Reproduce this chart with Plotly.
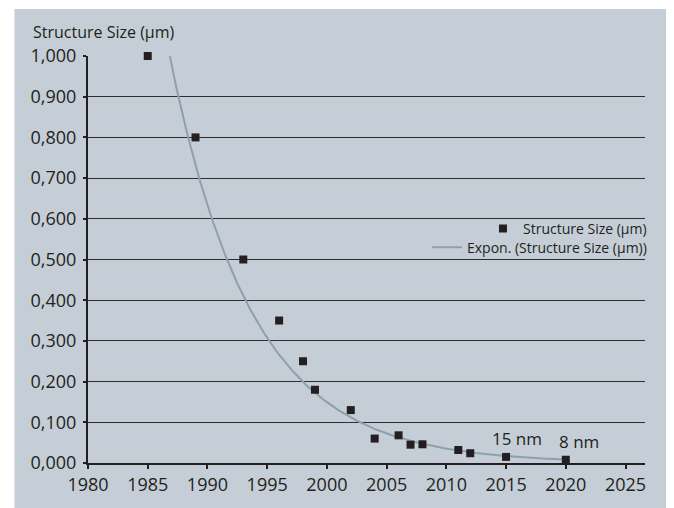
import numpy as np
import plotly.graph_objects as go

# ---- data ----
years = [1985, 1989, 1993, 1996, 1998, 1999, 2002, 2004, 2006, 2007, 2008, 2011, 2012, 2015, 2020]
sizes_um = [1.000, 0.800, 0.500, 0.350, 0.250, 0.180, 0.130, 0.060, 0.068, 0.045, 0.046, 0.032, 0.024, 0.015, 0.008]

# exponential trendline y = exp(b * (x - x0)), coefficients
trend_b = -0.1445
trend_x0 = 1986.84

x_ticks = [1980, 1985, 1990, 1995, 2000, 2005, 2010, 2015, 2020, 2025]
y_ticks = [0.0, 0.1, 0.2, 0.3, 0.4, 0.5, 0.6, 0.7, 0.8, 0.9, 1.0]

labels_text = ["15 nm", "8 nm"]
labels_year = [2015, 2020]
labels_size = [0.015, 0.008]

FONT = "Open Sans"
BG = "#c5ced6"
DARK = "#231f20"

OFF = 8  # page body margin
W, H = 674 - OFF, 508 - OFF
# reference pixel positions (window coords)
PL, PR, PT, PB = 87.5, 645, 56, 463.5
ML = PL - OFF
MR = 674 - PR
MT = PT - OFF
MB = 508 - PB
pw = W - ML - MR
ph = H - MT - MB

def px_x(p):
    return (p - PL) / pw

def px_y(p):
    return (PB - p) / ph

trend_x = np.linspace(min(years), max(years), 400)
trend_y = np.exp(trend_b * (trend_x - trend_x0))

fig = go.Figure()
fig.add_trace(go.Scatter(
    x=trend_x, y=trend_y, mode="lines",
    line=dict(color="#8ea1ab", width=2),
    name="Expon. (Structure Size (µm))",
    legend="legend2",
))
fig.add_trace(go.Scatter(
    x=years, y=sizes_um, mode="markers",
    marker=dict(symbol="square", size=8, color=DARK),
    name="Structure Size (µm)",
    cliponaxis=False,
    legend="legend",
))

for t, xv, yv in zip(labels_text, labels_year, labels_size):
    fig.add_annotation(x=xv, y=yv, text=t, showarrow=False,
                       xshift=11 if t == "15 nm" else 13, yshift=18,
                       font=dict(family=FONT, size=17, color=DARK))

fig.add_annotation(xref="paper", yref="paper", x=px_x(30), y=px_y(32),
                   xanchor="left", yanchor="middle", showarrow=False,
                   text="Structure Size (µm)",
                   font=dict(family=FONT, size=16, color=DARK))

fig.add_shape(type="rect", xref="paper", yref="paper",
              x0=px_x(14), x1=px_x(700), y0=px_y(9), y1=px_y(530),
              fillcolor=BG, line=dict(width=0), layer="below")

legend_common = dict(xanchor="right", yanchor="middle",
                     bgcolor="rgba(0,0,0,0)", font=dict(family=FONT, size=14, color=DARK),
                     borderwidth=0, itemwidth=30, tracegroupgap=0)

fig.update_layout(
    width=W, height=H,
    margin=dict(l=ML, r=MR, t=MT, b=MB, pad=0),
    paper_bgcolor="white",
    plot_bgcolor="rgba(0,0,0,0)",
    separators=", ",
    font=dict(family=FONT, size=18, color=DARK),
    showlegend=True,
    legend=dict(x=1.0 + 7 / pw, y=px_y(229), **legend_common),
    legend2=dict(x=1.0 + 7 / pw, y=px_y(248), **legend_common),
)

fig.update_xaxes(
    range=[1980, 2026.63], tickvals=x_ticks, tickformat="d",
    showgrid=False, zeroline=False,
    showline=True, linecolor=DARK, linewidth=2,
    ticks="outside", ticklen=4, tickwidth=2, tickcolor=DARK,
    tickfont=dict(family=FONT, size=18, color=DARK),
)
fig.update_yaxes(
    range=[0, 1.0], tickvals=y_ticks, tickformat=".3f",
    showgrid=True, gridcolor="#2e2e2e", gridwidth=1,
    zeroline=False,
    showline=True, linecolor=DARK, linewidth=2,
    ticks="outside", ticklen=3, tickwidth=2, tickcolor=DARK,
    ticklabelstandoff=3,
    tickfont=dict(family=FONT, size=18, color=DARK),
)

fig.write_html("out.html")
